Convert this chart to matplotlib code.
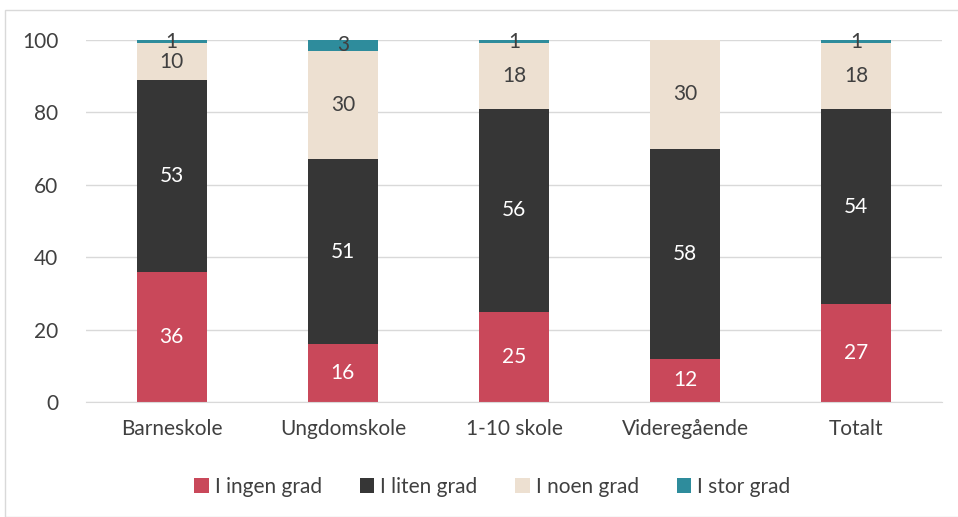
import numpy as np
import matplotlib.pyplot as plt
from matplotlib.patches import Rectangle

categories = ["Barneskole", "Ungdomskole", "1-10 skole", "Videregående", "Totalt"]
ingen = [36, 16, 25, 12, 27]
liten = [53, 51, 56, 58, 54]
noen = [10, 30, 18, 30, 18]
stor = [1, 3, 1, 0, 1]

series = [
    ("I ingen grad", ingen, "#C9485A", "white"),
    ("I liten grad", liten, "#363636", "white"),
    ("I noen grad", noen, "#EDE0D1", "#404040"),
    ("I stor grad", stor, "#2E8C9C", "#404040"),
]

plt.rcParams['font.family'] = ['Lato', 'DejaVu Sans']

fig = plt.figure(figsize=(9.58, 5.17), dpi=100)
ax = fig.add_axes([0.090, 0.222, 0.893, 0.701])

x = np.arange(len(categories))
bottom = np.zeros(len(categories))
for name, vals, color, tcol in series:
    vals = np.array(vals, dtype=float)
    ax.bar(x, vals, width=0.41, bottom=bottom, color=color, label=name, zorder=2)
    for xi, b, v in zip(x, bottom, vals):
        if v > 0:
            ax.text(xi, b + v / 2, f"{int(v)}", ha="center", va="center",
                    color=tcol, fontsize=15, zorder=3)
    bottom += vals

ax.set_xlim(-0.5, len(categories) - 0.5)
ax.set_ylim(0, 100)
ax.set_yticks(range(0, 101, 20))
ax.set_xticks(x)
ax.set_xticklabels(categories)
ax.tick_params(axis="both", length=0, labelsize=15, colors="#404040", pad=12)
ax.tick_params(axis="y", pad=20)
ax.yaxis.grid(True, color="#D9D9D9", linewidth=1, zorder=0)
for s in ["left", "right", "top"]:
    ax.spines[s].set_visible(False)
ax.spines["bottom"].set_color("#D9D9D9")

fig.legend(loc="center", bbox_to_anchor=(0.514, 0.058), ncol=4, frameon=False,
           fontsize=15, handlelength=0.7, handleheight=0.7, handletextpad=0.3,
           columnspacing=1.8, labelcolor="#404040")

fig.patches.append(Rectangle((5 / 958, 0), 1, 1 - 10 / 517, transform=fig.transFigure,
                             fill=False, edgecolor="#D9D9D9", linewidth=1))

fig.savefig("out.png", dpi=100)
